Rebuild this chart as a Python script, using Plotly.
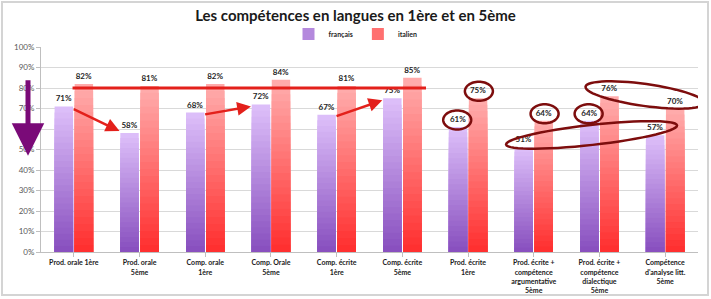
import math
import plotly.graph_objects as go

categories = [
    "Prod. orale 1ère",
    "Prod. orale<br>5ème",
    "Comp. orale<br>1ère",
    "Comp. Orale<br>5ème",
    "Comp. écrite<br>1ère",
    "Comp. écrite<br>5ème",
    "Prod. écrite<br>1ère",
    "Prod. écrite +<br>compétence<br>argumentative<br>5ème",
    "Prod. écrite +<br>compétence<br>dialectique<br>5ème",
    "Compétence<br>d'analyse litt.<br>5ème",
]
francais = [71, 58, 68, 72, 67, 75, 61, 51, 64, 57]
italien = [82, 81, 82, 84, 81, 85, 75, 64, 76, 70]
y_ticks = [0, 10, 20, 30, 40, 50, 60, 70, 80, 90, 100]
y_ticktext = [f"{v}%" for v in y_ticks]

W, H = 711, 299
ML, MR, MT, MB = 41, 13, 47, 47
PW = W - ML - MR
PH = H - MT - MB
NCAT = len(categories)
PX_PER_CAT = PW / NCAT
PX_PER_PCT = PH / 100.0

xs = list(range(NCAT))
FONT = "Lato"

fig = go.Figure()

NSEG = 24


def lerp(c1, c2, t):
    return "rgb(%d,%d,%d)" % tuple(round(a + (b - a) * t) for a, b in zip(c1, c2))


series = [
    ("français", francais, "fr", (135, 78, 190), (222, 192, 250)),
    ("italien", italien, "it", (255, 45, 45), (255, 174, 174)),
]
for name, vals, grp, c_bot, c_top in series:
    # draw from the full bar (top colour) down to the smallest (bottom colour):
    # each layer covers the lower part of the previous one -> no seams
    for k in range(NSEG - 1, -1, -1):
        t = (k + 0.5) / NSEG
        fig.add_trace(go.Bar(
            x=xs, y=[v * (k + 1) / NSEG for v in vals],
            offsetgroup=grp, name=name, legendgroup=grp,
            showlegend=(k == NSEG // 2),
            marker=dict(color=lerp(c_bot, c_top, t), line=dict(width=0)),
            hoverinfo="skip",
        ))
for name, vals, grp, c_bot, c_top in series:
    fig.add_trace(go.Bar(
        x=xs, y=vals, offsetgroup=grp, name=name, showlegend=False,
        marker=dict(color="rgba(0,0,0,0)", line=dict(width=0)),
        text=[f"{v}%" for v in vals], textposition="outside",
        textfont=dict(family=FONT, size=8, color="#262626", weight="bold"),
        cliponaxis=False,
    ))

# decorations
RED = "#e3201b"
DARKRED = "#7d0d0d"
OFF = 0.165  # bar offset from category centre (category units)

# horizontal line at 80%
fig.add_shape(type="line", x0=-0.02, x1=5.36, y0=80, y1=80,
              line=dict(color=RED, width=3))

# red arrows between french bars
arrow_pairs = [(0, 1), (2, 3), (4, 5)]
for a, b in arrow_pairs:
    tail_x = a - OFF + 0.14
    tail_y = francais[a] - 1
    head_x = b - OFF - 0.14
    head_y = francais[b] - 1 if francais[b] > francais[a] else francais[b] + 1
    fig.add_annotation(x=head_x, y=head_y, ax=tail_x, ay=tail_y,
                       xref="x", yref="y", axref="x", ayref="y",
                       showarrow=True, arrowhead=2, arrowsize=1.1,
                       arrowwidth=2.5, arrowcolor=RED, text="")

# purple down arrow
fig.add_annotation(x=(28 - ML) / PW, y=47, xref="paper", yref="y",
                   ax=0, ay=-77, showarrow=True, arrowhead=2, arrowsize=1.3,
                   arrowwidth=5, arrowcolor="#7a0a78", text="")


def label_center(i, series_vals, side):
    return i + side * OFF, series_vals[i] + 7 / PX_PER_PCT


def ellipse_path(cx, cy, a_px, b_px, ang_deg, n=60):
    ang = math.radians(ang_deg)
    pts = []
    for j in range(n):
        t = 2 * math.pi * j / n
        dx = a_px * math.cos(t)
        dy = b_px * math.sin(t)
        rx = dx * math.cos(ang) - dy * math.sin(ang)
        ry = dx * math.sin(ang) + dy * math.cos(ang)
        pts.append((cx + rx / PX_PER_CAT, cy - ry / PX_PER_PCT))
    return "M " + " L ".join(f"{x:.4f},{y:.3f}" for x, y in pts) + " Z"


circles = [(6, italien, 1), (6, francais, -1), (7, italien, 1), (8, francais, -1)]
for i, vals, side in circles:
    cx, cy = label_center(i, vals, side)
    fig.add_shape(type="path", path=ellipse_path(cx, cy, 14, 9.5, 0),
                  line=dict(color=DARKRED, width=2.5))

# tilted ellipses
fig.add_shape(type="path", path=ellipse_path(7.88, 57.1, 86, 10, -6.4),
              line=dict(color=DARKRED, width=2.5))
fig.add_shape(type="path", path=ellipse_path(8.693, 76.6, 60, 11, 7.9),
              line=dict(color=DARKRED, width=2.5))

# outer frame
fig.add_shape(type="rect", xref="paper", yref="paper",
              x0=(2 - ML) / PW, x1=(708 - ML) / PW,
              y0=(H - MB - 295) / PH, y1=(H - MB - 2) / PH,
              line=dict(color="#d4d4d4", width=2), layer="below")

fig.update_layout(
    width=W, height=H,
    margin=dict(l=ML, r=MR, t=MT, b=MB, autoexpand=False),
    paper_bgcolor="white", plot_bgcolor="white",
    barmode="group", bargap=0.39, bargroupgap=0.08,
    title=dict(text="Les compétences en langues en 1ère et en 5ème",
               x=0.5, xref="container", xanchor="center",
               y=1 - 16 / H, yref="container", yanchor="middle",
               font=dict(family=FONT, size=15, color="#1a1a1a", weight="bold")),
    legend=dict(orientation="h", x=0.5, xref="container", xanchor="center",
                y=1 - 34 / H, yref="container", yanchor="middle",
                font=dict(family=FONT, size=7, color="#262626", weight="bold"),
                itemwidth=30, traceorder="normal"),
    showlegend=True,
    xaxis=dict(tickmode="array", tickvals=xs, ticktext=categories,
               range=[-0.5, NCAT - 0.5], showgrid=False, automargin=False,
               showline=True, linecolor="#bfbfbf", linewidth=1,
               ticks="outside", tickson="boundaries", ticklen=4, tickcolor="#bfbfbf",
               tickfont=dict(family=FONT, size=7, color="#1a1a1a", weight="bold"),
               tickangle=0, fixedrange=True),
    yaxis=dict(range=[0, 100], tickvals=y_ticks, ticktext=y_ticktext,
               showgrid=True, gridcolor="#d9d9d9", gridwidth=1, automargin=False,
               showline=True, linecolor="#bfbfbf", linewidth=1,
               ticks="outside", ticklen=4, tickcolor="#bfbfbf",
               tickfont=dict(family=FONT, size=8, color="#595959"),
               zeroline=False, fixedrange=True),
    hovermode=False,
)

fig.write_html("out.html")
